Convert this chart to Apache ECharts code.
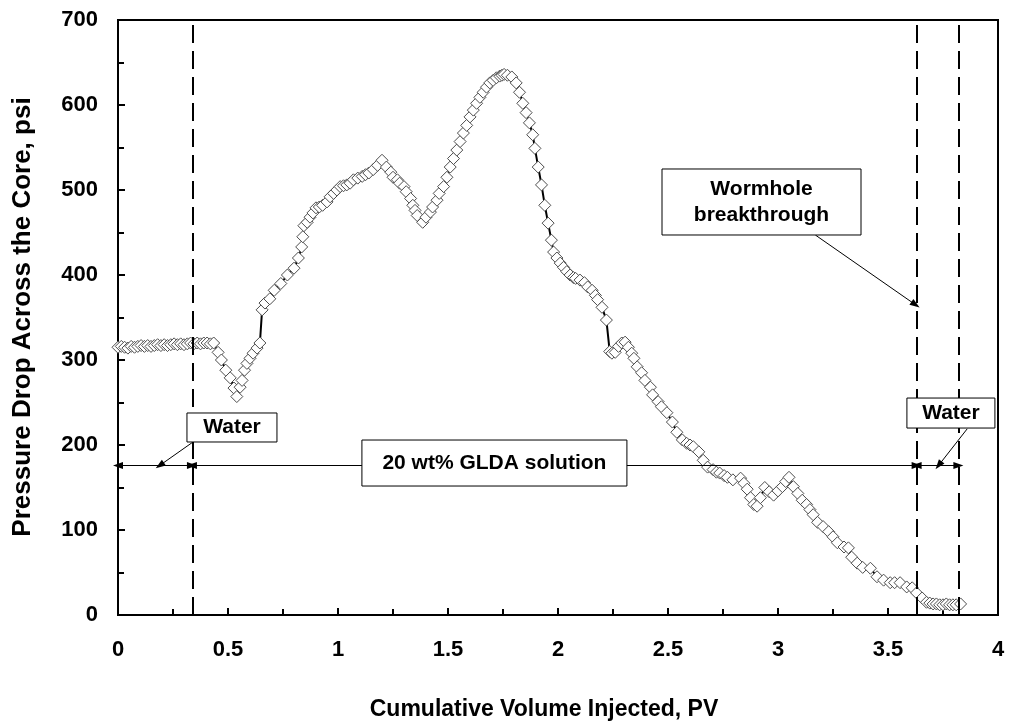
<!DOCTYPE html>
<html>
<head>
<meta charset="utf-8">
<script src="https://cdn.jsdelivr.net/npm/echarts@6/dist/echarts.min.js"></script>
<style>
html,body{margin:0;padding:0;background:#fff;}
#chart{width:1012px;height:728px;}
</style>
</head>
<body>
<div id="chart"></div>
<script>
// ---- data ----
const pvInjected = [
  0.00,0.015,0.03,0.045,0.06,0.075,0.09,0.105,0.12,0.135,0.15,0.165,0.18,0.195,0.21,0.225,0.24,0.255,0.27,0.285,0.30,0.315,0.33,0.345,0.36,0.375,0.39,0.405,0.42,0.435,
  0.455,0.47,0.49,0.51,0.527,0.54,0.555,0.564,0.575,0.586,0.6,0.614,0.632,0.645,0.655,0.668,0.69,0.71,0.74,0.77,0.80,0.82,0.835,0.84,0.845,0.86,0.873,0.886,0.9,0.915,0.93,0.95,0.964,0.98,0.995,1.01,1.025,1.04,1.055,1.07,1.09,1.11,1.125,1.14,1.16,1.18,1.2,
  1.22,1.24,1.25,1.27,1.28,1.3,1.31,1.33,1.34,1.35,1.36,1.385,1.40,1.42,1.43,1.45,1.46,1.48,1.495,1.51,1.525,1.54,1.555,1.57,1.585,1.6,1.615,1.63,1.645,1.66,1.675,1.69,1.705,1.72,1.735,1.745,1.755,1.77,1.79,
  1.81,1.825,1.84,1.855,1.87,1.885,1.895,1.91,1.925,1.94,1.955,1.97,1.98,1.995,2.01,2.025,2.04,2.055,2.07,2.08,2.1,2.12,2.135,2.155,2.17,2.18,2.2,2.22,2.235,2.245,2.26,2.275,2.29,2.305,2.32,2.335,2.345,2.36,2.38,2.395,2.42,2.43,2.455,2.47,2.495,2.52,2.54,2.565,2.585,2.6,2.615,2.64,2.66,2.68,2.705,2.72,2.735,2.755,2.77,2.795,2.83,2.845,2.86,2.875,2.89,2.905,2.92,2.94,2.96,2.98,3.0,3.02,3.035,3.05,3.07,3.09,3.11,3.13,3.145,3.16,3.18,3.205,3.23,3.25,3.27,3.3,3.32,3.335,3.36,3.385,3.42,3.45,3.48,3.51,3.53,3.555,3.585,3.61,3.63,3.655,3.675,3.69,3.705,3.72,3.735,3.75,3.765,3.78,3.795,3.81,3.83
];
const pressureDrop = [
  315,316,315,314,316,315,316,317,316,317,316,317,318,317,318,317,318,319,318,319,318,319,320,319,320,319,320,320,319,320,
  309,300,288,279,267,257,268,276,288,296,302,308,314,320,359,367,372,382,390,400,408,420,433,445,458,462,468,473,479,480,482,486,492,496,500,504,505,506,508,512,514,516,518,520,524,529,535,
  527,521,515,512,508,504,498,490,482,476,470,462,468,474,480,488,496,504,515,527,537,547,557,567,576,586,594,602,609,615,621,626,629,632,634,635,636,635,633,
  626,615,602,591,579,565,549,527,506,482,461,441,427,420,414,409,404,400,397,396,394,391,386,382,376,371,362,347,310,308,309,316,320,321,315,308,302,292,285,276,268,259,251,245,238,227,215,206,202,200,198,192,182,174,171,168,167,164,162,159,161,155,148,138,130,128,138,150,145,141,146,151,157,162,151,143,135,130,124,118,109,104,98,92,85,80,79,68,61,56,55,45,41,38,38,38,33,32,26,20,15,14,13,13,12,12,13,12,12,12,13
];
// phase boundaries (PV) and annotation texts
const phaseBounds = [0, 0.336, 3.63, 3.82];
const arrowLevel = 176;
const xTicks = {min: 0, max: 4, step: 0.5};
const yTicks = {min: 0, max: 700, step: 100};
const labels = {
  water: 'Water',
  glda: '20 wt% GLDA solution',
  wormhole: ['Wormhole', 'breakthrough'],
  xTitle: 'Cumulative Volume Injected, PV',
  yTitle: 'Pressure Drop Across the Core, psi'
};

const FONT = '"Liberation Sans", Arial, sans-serif';
const points = pvInjected.map((x, i) => [x, pressureDrop[i]]);

const chart = echarts.init(document.getElementById('chart'), null, {renderer: 'canvas'});

const dashStyle = {color: '#000', width: 2, type: [18, 8]};
const thin = {color: '#000', width: 1, type: 'solid'};
const ARW = 'triangle';

const arrowData = [
  [{coord: [phaseBounds[0], arrowLevel], symbol: ARW}, {coord: [phaseBounds[1], arrowLevel], symbol: ARW}],
  [{coord: [phaseBounds[1], arrowLevel], symbol: ARW}, {coord: [phaseBounds[2], arrowLevel], symbol: ARW}],
  [{coord: [phaseBounds[2], arrowLevel], symbol: ARW}, {coord: [phaseBounds[3], arrowLevel], symbol: ARW}],
  [{coord: [0.36, 207], symbol: 'none'}, {coord: [0.19, arrowLevel], symbol: ARW}],
  [{coord: [3.86, 219], symbol: 'none'}, {coord: [3.73, arrowLevel], symbol: ARW}],
  [{coord: [3.17, 447], symbol: 'none'}, {coord: [3.625, 365], symbol: ARW}]
];

chart.setOption({
  animation: false,
  backgroundColor: '#fff',
  grid: {left: 118, right: 14, top: 20, bottom: 113, show: true, borderColor: '#000', borderWidth: 2, backgroundColor: 'transparent'},
  xAxis: {
    type: 'value', min: xTicks.min, max: xTicks.max, interval: xTicks.step,
    axisLine: {show: true, lineStyle: {color: '#000', width: 2}},
    axisTick: {show: true, inside: true, length: 7, lineStyle: {color: '#000', width: 2}},
    minorTick: {show: true, splitNumber: 2, length: 6, lineStyle: {color: '#000', width: 2}},
    splitLine: {show: false},
    axisLabel: {color: '#000', fontFamily: FONT, fontWeight: 'bold', fontSize: 22, margin: 24,
      formatter: v => String(v)}
  },
  yAxis: {
    type: 'value', min: yTicks.min, max: yTicks.max, interval: yTicks.step,
    axisLine: {show: true, lineStyle: {color: '#000', width: 2}},
    axisTick: {show: true, inside: true, length: 7, lineStyle: {color: '#000', width: 2}},
    minorTick: {show: true, splitNumber: 2, length: 6, lineStyle: {color: '#000', width: 2}},
    splitLine: {show: false},
    axisLabel: {color: '#000', fontFamily: FONT, fontWeight: 'bold', fontSize: 22, margin: 20}
  },
  series: [{
    type: 'line',
    data: points,
    symbol: 'diamond',
    symbolSize: [12, 12],
    showAllSymbol: true,
    lineStyle: {color: '#000', width: 2},
    itemStyle: {color: '#fff', borderColor: '#4d4d4d', borderWidth: 1},
    z: 3,
    markLine: {
      silent: true,
      animation: false,
      symbol: ['none', 'none'],
      label: {show: false},
      emphasis: {disabled: true},
      lineStyle: dashStyle,
      data: [{xAxis: phaseBounds[1]}, {xAxis: phaseBounds[2]}, {xAxis: phaseBounds[3]}]
    }
  }, {
    type: 'line',
    data: [],
    z: 4,
    markLine: {
      silent: true,
      animation: false,
      symbol: [ARW, ARW],
      symbolSize: [7, 10],
      label: {show: false},
      emphasis: {disabled: true},
      lineStyle: thin,
      data: arrowData
    }
  }]
});

function box(cx, cy, w, h, lines, fs, lh) {
  const p = chart.convertToPixel({gridIndex: 0}, [cx, cy]);
  return {
    type: 'group', x: p[0], y: p[1], z: 100,
    children: [
      {type: 'rect', shape: {x: -w / 2, y: -h / 2, width: w, height: h},
       style: {fill: '#fff', stroke: '#000', lineWidth: 1}, z: 100},
      {type: 'text', x: 0, y: 0, z: 101,
       style: {text: lines.join('\n'), fill: '#000', font: 'bold ' + fs + 'px ' + FONT,
               align: 'center', verticalAlign: 'middle', lineHeight: lh}}
    ]
  };
}

chart.setOption({
  graphic: [
    box(0.518, 220.6, 90, 29, [labels.water], 21, 24),
    box(1.711, 178.8, 265, 46, [labels.glda], 21, 24),
    box(2.925, 485.9, 199, 66, labels.wormhole, 21, 26),
    box(3.786, 237.6, 88, 30, [labels.water], 21, 24),
    {type: 'text', x: 544, y: 710, z: 100,
     style: {text: labels.xTitle, fill: '#000', font: 'bold 23px ' + FONT, align: 'center', verticalAlign: 'middle'}},
    {type: 'text', x: 23, y: 317, rotation: Math.PI / 2, z: 100,
     style: {text: labels.yTitle, fill: '#000', font: 'bold 26px ' + FONT, align: 'center', verticalAlign: 'middle'}}
  ]
});
</script>
</body>
</html>
